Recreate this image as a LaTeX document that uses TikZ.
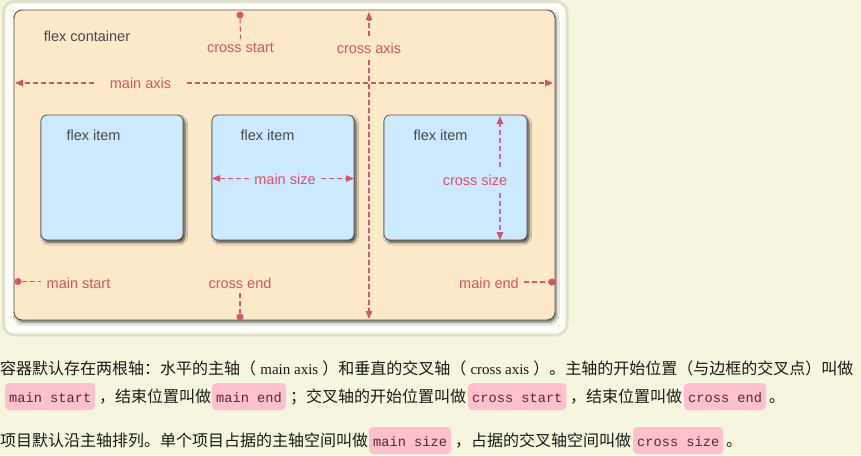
\documentclass[tikz,border=0pt]{standalone}
\usepackage{fontspec}
\setmainfont{Liberation Sans}
\setmonofont{Liberation Mono}
\newfontfamily\cjk{Noto Sans CJK SC}
\newfontfamily\latinserif{Liberation Serif}
\usetikzlibrary{arrows.meta,shadows.blur}
\definecolor{pagebg}{RGB}{246,246,222}
\definecolor{framefill}{RGB}{253,253,247}
\definecolor{frameline}{RGB}{224,224,204}
\definecolor{contfill}{RGB}{252,233,201}
\definecolor{boxline}{RGB}{85,85,85}
\definecolor{itemfill}{RGB}{204,233,255}
\definecolor{lbl}{RGB}{218,82,104}
\definecolor{sizeline}{RGB}{192,104,168}
\definecolor{codebg}{RGB}{255,192,206}
\definecolor{codefg}{RGB}{85,40,48}
\definecolor{darktext}{RGB}{72,72,72}
\definecolor{bodytext}{RGB}{25,25,25}
\begin{document}
\begin{tikzpicture}[x=1pt,y=-1pt,
  lab/.style={text=lbl,font=\fontsize{14.5}{17}\selectfont,inner xsep=5pt,inner ysep=4pt},
  axisline/.style={draw=lbl,line width=1.1pt,dash pattern=on 5pt off 3pt},
  sizestroke/.style={draw=sizeline,line width=1.1pt,dash pattern=on 5pt off 3pt},
  tip/.style={-{Triangle[length=8pt,width=6.5pt,fill=lbl,color=lbl]}},
  dot/.style={circle,fill=lbl,inner sep=0pt,minimum size=7pt},
  itembox/.style={draw=boxline,line width=0.8pt,fill=itemfill,rounded corners=6pt,
    blur shadow={shadow xshift=2pt,shadow yshift=-2.5pt,shadow blur radius=2.5pt,shadow blur steps=6,shadow opacity=70}},
  itemlab/.style={text=darktext,font=\fontsize{14.5}{17}\selectfont,inner sep=0pt},
  cjkt/.style={font=\cjk\fontsize{16}{16}\selectfont,text=bodytext,inner sep=0pt,anchor=base west},
  latt/.style={font=\latinserif\fontsize{15}{16}\selectfont,text=bodytext,inner xsep=3.75pt,inner ysep=0pt,anchor=base west},
  code/.style={font=\ttfamily\fontsize{13.67}{16}\selectfont,text=codefg,fill=codebg,rounded corners=4pt,
    inner xsep=4pt,inner ysep=0pt,text height=19pt,text depth=8pt,anchor=base west}
]
\useasboundingbox (0,0) rectangle (861,455);
\fill[pagebg] (0,0) rectangle (861,455);

% outer frame
\draw[draw=frameline,line width=3pt,fill=framefill,rounded corners=11pt] (3.5,1.5) rectangle (567,335);

% flex container
\draw[draw=boxline,line width=0.9pt,fill=contfill,rounded corners=8pt,
  blur shadow={shadow xshift=1.5pt,shadow yshift=-2.5pt,shadow blur radius=2.5pt,shadow blur steps=6,shadow opacity=55}]
  (14,10) rectangle (555,320);
\node[itemlab] (cont) at (87,36) {flex container};

% flex items
\node[itembox,minimum width=142pt,minimum height=125pt] (item1) at (112,177.5) {};
\node[itembox,minimum width=142pt,minimum height=125pt] (item2) at (283,177.5) {};
\node[itembox,minimum width=143pt,minimum height=125pt] (item3) at (455.5,177.5) {};
\node[itemlab] (it1) at (93.5,135) {flex item};
\node[itemlab] (it2) at (267.5,135) {flex item};
\node[itemlab] (it3) at (440.5,135) {flex item};

% main axis
\node[lab,inner xsep=16pt] (mal) at (140.5,83) {main axis};
\coordinate (maL) at (15,83);
\coordinate (maR) at (553,83);
\draw[axisline,tip] (mal.west) -- (maL);
\draw[axisline,tip] (mal.east) -- (maR);

% cross axis
\node[lab,inner ysep=6pt] (cal) at (369,48) {cross axis};
\coordinate (caT) at (369,12);
\coordinate (caB) at (369,319);
\draw[axisline,tip] (cal.north) -- (caT);
\draw[axisline,tip] (cal.south) -- (caB);

% cross start
\node[lab] (csl) at (240.5,48) {cross start};
\node[dot] (csd) at (240,15) {};
\draw[axisline] (csd) -- (csl.north);

% cross end
\node[lab] (cel) at (240,283) {cross end};
\node[dot] (ced) at (240,317) {};
\draw[axisline] (cel.south) -- (ced);

% main start
\node[lab] (msl) at (78.5,283) {main start};
\node[dot] (msd) at (18,281.5) {};
\draw[axisline] (msd) -- (msl.west |- msd);

% main end
\node[lab] (mel) at (489,283) {main end};
\node[dot] (med) at (552,282) {};
\draw[axisline] (mel.east |- med) -- (med);

% main size
\node[lab,inner xsep=5pt] (mszl) at (285,179) {main size};
\coordinate (mszL) at (212,178.5);
\coordinate (mszR) at (354,178.5);
\draw[axisline,tip] (mszl.west |- mszL) -- (mszL);
\draw[axisline,tip] (mszl.east |- mszR) -- (mszR);

% cross size
\node[lab,inner ysep=7pt] (cszl) at (475,180) {cross size};
\coordinate (cszT) at (500,116);
\coordinate (cszB) at (500,240);
\draw[sizestroke,tip] (cszT |- cszl.north) -- (cszT);
\draw[sizestroke,tip] (cszB |- cszl.south) -- (cszB);

% paragraph line 1 (flowing)
\node[cjkt] (t1a) at (0,374) {容器默认存在两根轴：水平的主轴（};
\node[latt] (t1b) at (t1a.base east) {main axis};
\node[cjkt] (t1c) at (t1b.base east) {）和垂直的交叉轴（};
\node[latt] (t1d) at (t1c.base east) {cross axis};
\node[cjkt] (t1e) at (t1d.base east) {）。主轴的开始位置（与边框的交叉点）叫做};

% paragraph line 2
\node[code] (c1) at (5,402) {main start};
\node[cjkt] (t2a) at (99,402) {，结束位置叫做};
\node[code] (c2) at (212,402) {main end};
\node[cjkt] (t2b) at (290,402) {；交叉轴的开始位置叫做};
\node[code] (c3) at (468,402) {cross start};
\node[cjkt] (t2c) at (570,402) {，结束位置叫做};
\node[code] (c4) at (684,402) {cross end};
\node[cjkt] (t2d) at (769,402) {。};

% paragraph line 3
\node[cjkt] (t3a) at (0,446) {项目默认沿主轴排列。单个项目占据的主轴空间叫做};
\node[code] (c5) at (369,446) {main size};
\node[cjkt] (t3b) at (455,446) {，占据的交叉轴空间叫做};
\node[code] (c6) at (633,446) {cross size};
\node[cjkt] (t3c) at (726,446) {。};
\end{tikzpicture}
\end{document}
